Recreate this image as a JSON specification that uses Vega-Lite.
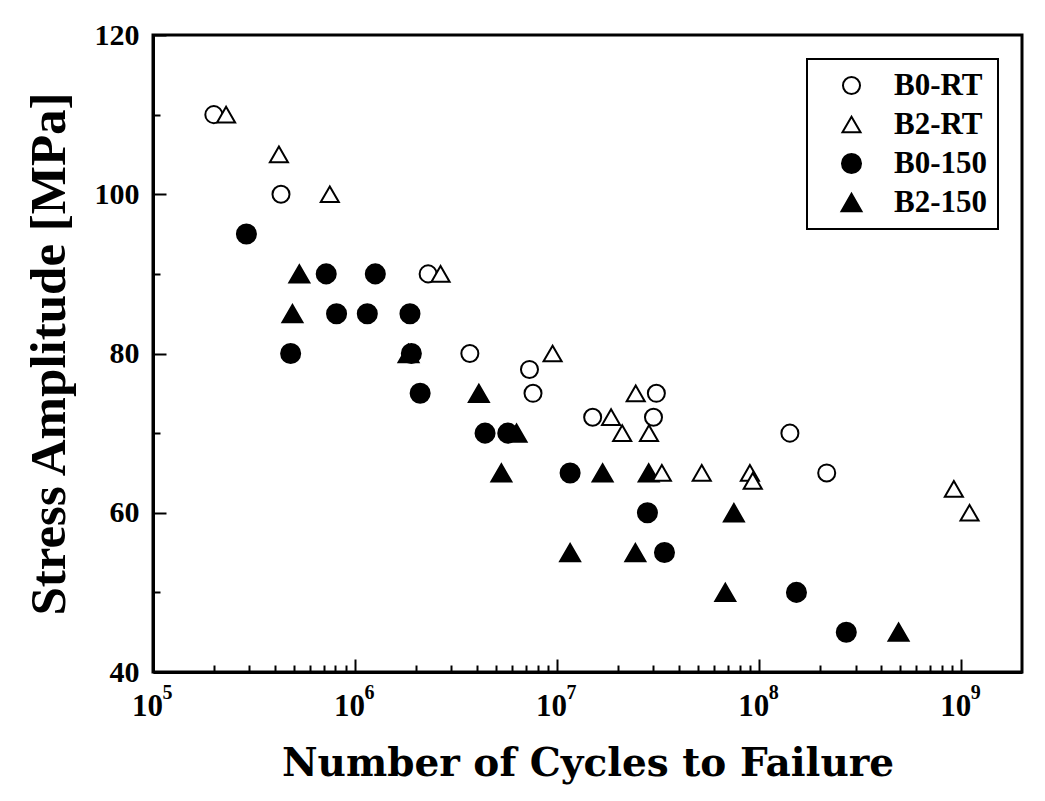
{
  "$schema": "https://vega.github.io/schema/vega-lite/v6.json",
  "width": 869,
  "height": 637,
  "autosize": "none",
  "padding": {"left": 153, "top": 35, "right": 23, "bottom": 129},
  "background": "white",
  "config": {
    "view": {"stroke": "black", "strokeWidth": 3},
    "font": "Liberation Serif",
    "legend": {
      "title": null,
      "orient": "none",
      "strokeColor": "black",
      "strokeWidth": 2,
      "padding": 11,
      "labelFont": "Liberation Serif",
      "labelFontWeight": "bold",
      "labelFontSize": 31,
      "labelColor": "black",
      "symbolStrokeWidth": 2,
      "rowPadding": 7,
      "labelOffset": 27,
      "symbolOffset": 18
    }
  },
  "datasets": {
    "pts": [
      {"series": "B0-RT", "cycles": 200000, "stress": 110},
      {"series": "B0-RT", "cycles": 430000, "stress": 100},
      {"series": "B0-RT", "cycles": 2300000, "stress": 90},
      {"series": "B0-RT", "cycles": 3700000, "stress": 80},
      {"series": "B0-RT", "cycles": 7300000, "stress": 78},
      {"series": "B0-RT", "cycles": 7600000, "stress": 75},
      {"series": "B0-RT", "cycles": 15000000, "stress": 72},
      {"series": "B0-RT", "cycles": 31000000, "stress": 75},
      {"series": "B0-RT", "cycles": 30000000, "stress": 72},
      {"series": "B0-RT", "cycles": 142000000, "stress": 70},
      {"series": "B0-RT", "cycles": 216000000, "stress": 65},
      {"series": "B2-RT", "cycles": 230000, "stress": 110},
      {"series": "B2-RT", "cycles": 420000, "stress": 105},
      {"series": "B2-RT", "cycles": 750000, "stress": 100},
      {"series": "B2-RT", "cycles": 2650000, "stress": 90},
      {"series": "B2-RT", "cycles": 9500000, "stress": 80},
      {"series": "B2-RT", "cycles": 18500000, "stress": 72},
      {"series": "B2-RT", "cycles": 21000000, "stress": 70},
      {"series": "B2-RT", "cycles": 24500000, "stress": 75},
      {"series": "B2-RT", "cycles": 28500000, "stress": 70},
      {"series": "B2-RT", "cycles": 33000000, "stress": 65},
      {"series": "B2-RT", "cycles": 52000000, "stress": 65},
      {"series": "B2-RT", "cycles": 90000000, "stress": 65},
      {"series": "B2-RT", "cycles": 93000000, "stress": 64},
      {"series": "B2-RT", "cycles": 920000000, "stress": 63},
      {"series": "B2-RT", "cycles": 1100000000, "stress": 60},
      {"series": "B0-150", "cycles": 290000, "stress": 95},
      {"series": "B0-150", "cycles": 720000, "stress": 90},
      {"series": "B0-150", "cycles": 1260000, "stress": 90},
      {"series": "B0-150", "cycles": 810000, "stress": 85},
      {"series": "B0-150", "cycles": 1150000, "stress": 85},
      {"series": "B0-150", "cycles": 1870000, "stress": 85},
      {"series": "B0-150", "cycles": 480000, "stress": 80},
      {"series": "B0-150", "cycles": 1900000, "stress": 80},
      {"series": "B0-150", "cycles": 2100000, "stress": 75},
      {"series": "B0-150", "cycles": 4400000, "stress": 70},
      {"series": "B0-150", "cycles": 5700000, "stress": 70},
      {"series": "B0-150", "cycles": 11600000, "stress": 65},
      {"series": "B0-150", "cycles": 28000000, "stress": 60},
      {"series": "B0-150", "cycles": 34000000, "stress": 55},
      {"series": "B0-150", "cycles": 153000000, "stress": 50},
      {"series": "B0-150", "cycles": 270000000, "stress": 45},
      {"series": "B2-150", "cycles": 530000, "stress": 90},
      {"series": "B2-150", "cycles": 490000, "stress": 85},
      {"series": "B2-150", "cycles": 1840000, "stress": 80},
      {"series": "B2-150", "cycles": 4100000, "stress": 75},
      {"series": "B2-150", "cycles": 6300000, "stress": 70},
      {"series": "B2-150", "cycles": 5300000, "stress": 65},
      {"series": "B2-150", "cycles": 16800000, "stress": 65},
      {"series": "B2-150", "cycles": 28400000, "stress": 65},
      {"series": "B2-150", "cycles": 75000000, "stress": 60},
      {"series": "B2-150", "cycles": 11600000, "stress": 55},
      {"series": "B2-150", "cycles": 24400000, "stress": 55},
      {"series": "B2-150", "cycles": 68000000, "stress": 50},
      {"series": "B2-150", "cycles": 490000000, "stress": 45}
    ]
  },
  "data": {"name": "pts"},
  "layer": [
    {
      "transform": [{"filter": "datum.series == 'B0-150' || datum.series == 'B2-150'"}],
      "mark": {"type": "point", "filled": false, "strokeWidth": 2, "opacity": 1},
      "encoding": {
        "x": {
          "field": "cycles", "type": "quantitative",
          "scale": {"type": "log", "domain": [100000, 2000000000]},
          "axis": {
            "orient": "bottom",
            "values": [100000, 200000, 300000, 400000, 500000, 600000, 700000, 800000, 900000,
                       1000000, 2000000, 3000000, 4000000, 5000000, 6000000, 7000000, 8000000, 9000000,
                       10000000, 20000000, 30000000, 40000000, 50000000, 60000000, 70000000, 80000000, 90000000,
                       100000000, 200000000, 300000000, 400000000, 500000000, 600000000, 700000000, 800000000, 900000000,
                       1000000000],
            "labelExpr": "abs(log(datum.value)/LN10 - round(log(datum.value)/LN10)) < 0.001 ? '10' : ''",
            "labelFont": "Liberation Serif", "labelFontSize": 31, "labelFontWeight": "bold", "labelColor": "black",
            "labelOffset": -6, "labelPadding": 32, "labelFlush": false, "labelOverlap": false,
            "domainColor": "black", "domainWidth": 3,
            "tickColor": "black", "tickWidth": 2,
            "tickSize": {"condition": {"test": "abs(log(datum.value)/LN10 - round(log(datum.value)/LN10)) < 0.001", "value": -13}, "value": -7},
            "grid": false,
            "title": "Number of Cycles to Failure",
            "titleFont": "DejaVu Serif", "titleFontSize": 39, "titleFontWeight": "bold", "titleColor": "black",
            "titlePadding": 17
          }
        },
        "y": {
          "field": "stress", "type": "quantitative",
          "scale": {"domain": [40, 120], "nice": false, "zero": false},
          "axis": {
            "values": [40, 50, 60, 70, 80, 90, 100, 110, 120],
            "labelExpr": "datum.value % 20 == 0 ? datum.label : ''",
            "labelFont": "Liberation Serif", "labelFontSize": 30, "labelFontWeight": "bold", "labelColor": "black",
            "labelPadding": 27, "labelFlush": false, "labelOverlap": false,
            "domainColor": "black", "domainWidth": 3,
            "tickColor": "black", "tickWidth": 2,
            "tickSize": {"condition": {"test": "datum.value % 20 == 0", "value": -13}, "value": -7},
            "grid": false,
            "title": "Stress Amplitude [MPa]",
            "titleFont": "Liberation Serif", "titleFontSize": 51, "titleFontWeight": "bold", "titleColor": "black",
            "titlePadding": 19
          }
        },
        "shape": {
          "field": "series", "type": "nominal",
          "scale": {"domain": ["B0-RT", "B2-RT", "B0-150", "B2-150"], "range": ["circle", "triangle-up", "circle", "triangle-up"]},
          "legend": {"legendX": 654, "legendY": 24}
        },
        "fill": {
          "field": "series", "type": "nominal",
          "scale": {"domain": ["B0-RT", "B2-RT", "B0-150", "B2-150"], "range": ["white", "white", "black", "black"]},
          "legend": {"legendX": 654, "legendY": 24}
        },
        "stroke": {
          "field": "series", "type": "nominal",
          "scale": {"domain": ["B0-RT", "B2-RT", "B0-150", "B2-150"], "range": ["black", "black", "black", "black"]},
          "legend": {"legendX": 654, "legendY": 24}
        },
        "size": {
          "field": "series", "type": "nominal",
          "scale": {"domain": ["B0-RT", "B2-RT", "B0-150", "B2-150"], "range": [290, 400, 320, 400]},
          "legend": {"legendX": 654, "legendY": 24}
        }
      }
    },
    {
      "transform": [{"filter": "datum.series == 'B0-RT' || datum.series == 'B2-RT'"}],
      "mark": {"type": "point", "filled": false, "strokeWidth": 2, "opacity": 1},
      "encoding": {
        "x": {
          "field": "cycles", "type": "quantitative",
          "scale": {"type": "log", "domain": [100000, 2000000000]},
          "axis": {
            "orient": "bottom",
            "values": [100000, 1000000, 10000000, 100000000, 1000000000],
            "labelExpr": "'' + round(log(datum.value)/LN10)",
            "labelFont": "Liberation Serif", "labelFontSize": 20, "labelFontWeight": "bold", "labelColor": "black",
            "labelOffset": 14, "labelPadding": 10, "labelFlush": false, "labelOverlap": false,
            "ticks": false, "tickSize": 0, "domain": false, "grid": false, "title": null
          }
        },
        "y": {
          "field": "stress", "type": "quantitative",
          "scale": {"domain": [40, 120], "nice": false, "zero": false},
          "axis": null
        },
        "shape": {
          "field": "series", "type": "nominal",
          "scale": {"domain": ["B0-RT", "B2-RT", "B0-150", "B2-150"], "range": ["circle", "triangle-up", "circle", "triangle-up"]}
        },
        "fill": {
          "field": "series", "type": "nominal",
          "scale": {"domain": ["B0-RT", "B2-RT", "B0-150", "B2-150"], "range": ["white", "white", "black", "black"]}
        },
        "stroke": {
          "field": "series", "type": "nominal",
          "scale": {"domain": ["B0-RT", "B2-RT", "B0-150", "B2-150"], "range": ["black", "black", "black", "black"]}
        },
        "size": {
          "field": "series", "type": "nominal",
          "scale": {"domain": ["B0-RT", "B2-RT", "B0-150", "B2-150"], "range": [290, 400, 320, 400]}
        }
      }
    }
  ],
  "resolve": {"axis": {"x": "independent", "y": "independent"}}
}
